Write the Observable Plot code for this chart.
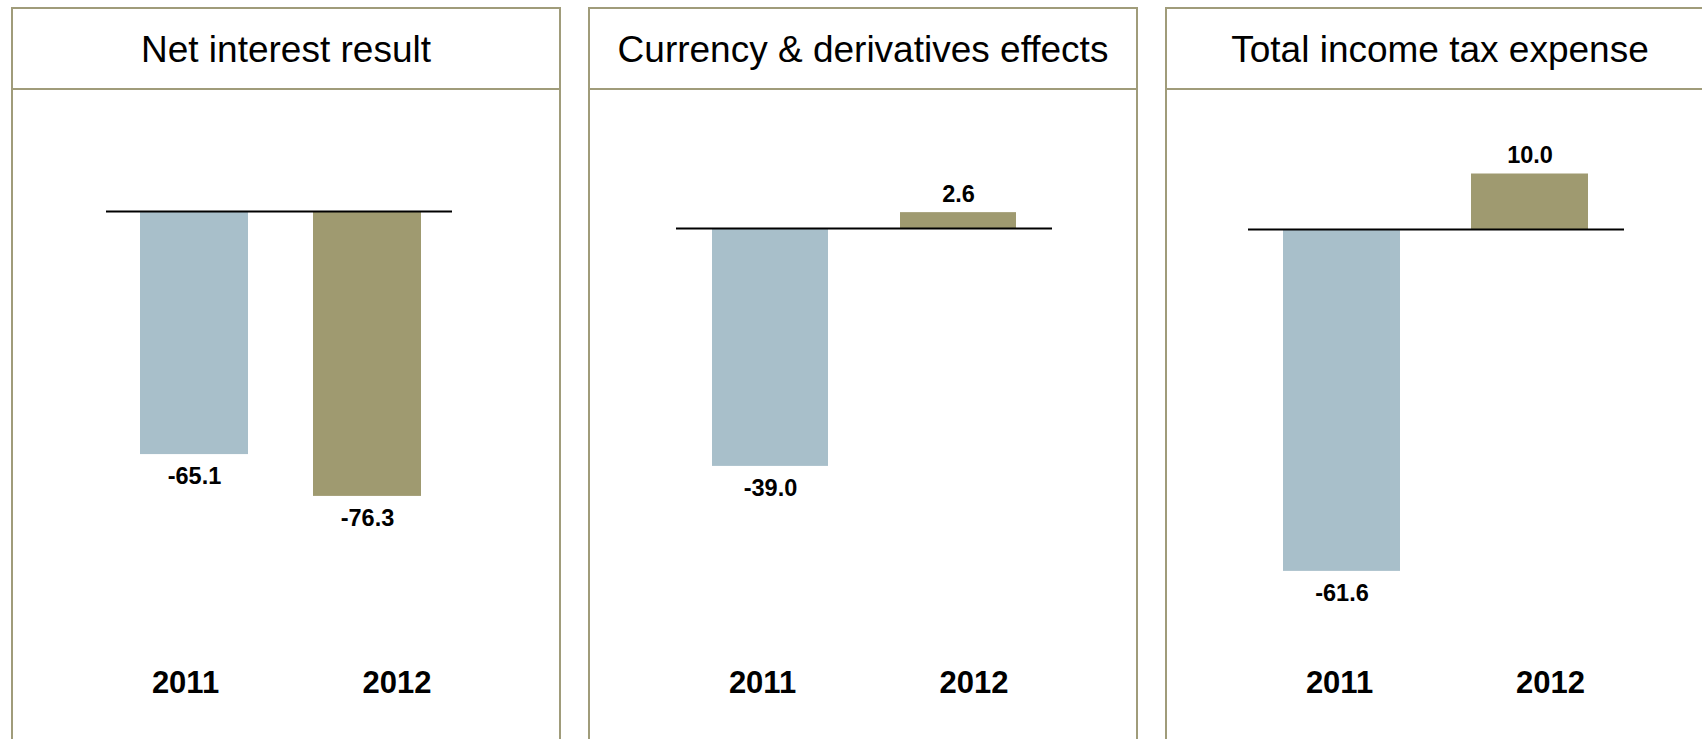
<!DOCTYPE html>
<html>
<head>
<meta charset="utf-8">
<script src="https://cdn.jsdelivr.net/npm/d3@7"></script>
<script src="https://cdn.jsdelivr.net/npm/@observablehq/plot@0.6"></script>
<style>
  html, body { margin: 0; padding: 0; background: #fff; width: 1702px; height: 739px; overflow: hidden; }
  body { position: relative; font-family: "Liberation Sans", Arial, sans-serif; }
  .panel { position: absolute; top: 7px; width: 550px; height: 740px; box-sizing: border-box;
           border: 2px solid #a09c7a; border-bottom: none; }
  .head { height: 76px; border-bottom: 2px solid #a09c7a; display: flex; align-items: center;
          justify-content: center; font-size: 37px; color: #000; padding-top: 3px; box-sizing: content-box; }
  .panel svg { display: block; }
</style>
</head>
<body>
<script>
// ---- data ----
const titles = ["Net interest result", "Currency & derivatives effects", "Total income tax expense"];
const years = ["2011", "2012"];
const values2011 = [-65.1, -39.0, -61.6];
const values2012 = [-76.3, 2.6, 10.0];
const colors = ["#a8bfca", "#9f9a70"];

// ---- layout (per panel) ----
const layout = [
  {zero: 121, k: 3.734, centers: [181, 354], bw: 108, frame: [93, 439]},
  {zero: 138, k: 6.10, centers: [180, 368], bw: 116, frame: [86, 462]},
  {zero: 139, k: 5.55, centers: [174.5, 363], bw: 117, frame: [81, 457]}
];
const yearLabelX = [172, 383.5];
const W = 546, H = 650;

titles.forEach((title, i) => {
  const L = layout[i];
  const step = L.centers[1] - L.centers[0];
  const pi = 1 - L.bw / step;
  const xRange = [L.centers[0] - step / 2, L.centers[1] + step / 2];
  const xb = d3.scaleBand().domain(years).range(xRange).paddingInner(pi).paddingOuter(pi / 2);
  const data = years.map((y, j) => ({year: y, value: [values2011, values2012][j][i]}));
  const fmt = v => v.toFixed(1);

  const panel = document.createElement("div");
  panel.className = "panel";
  panel.style.left = (11 + 577 * i) + "px";
  const head = document.createElement("div");
  head.className = "head";
  head.textContent = title;
  panel.appendChild(head);

  const chart = Plot.plot({
    width: W,
    height: H,
    marginLeft: L.frame[0],
    marginRight: W - L.frame[1],
    marginTop: 0,
    marginBottom: H - 602,
    style: {fontFamily: "'Liberation Sans', Arial, sans-serif", background: "transparent", overflow: "visible"},
    x: {domain: years, range: xRange, paddingInner: pi, paddingOuter: pi / 2, axis: null},
    y: {domain: [-100, 100], range: [L.zero + 100 * L.k, L.zero - 100 * L.k], axis: null},
    color: {domain: years, range: colors},
    marks: [
      Plot.barY(data, {x: "year", y: "value", fill: "year"}),
      Plot.ruleY([0], {stroke: "#000", strokeWidth: 2}),
      Plot.text(data.filter(d => d.value >= 0), {x: "year", y: "value", text: d => fmt(d.value),
        lineAnchor: "bottom", dy: -11, fontSize: 23.5, fontWeight: "bold", fill: "#000"}),
      Plot.text(data.filter(d => d.value < 0), {x: "year", y: "value", text: d => fmt(d.value),
        lineAnchor: "top", dy: 13, fontSize: 23.5, fontWeight: "bold", fill: "#000"}),
      ...years.map((yr, j) => Plot.text([yr], {x: d => d, frameAnchor: "bottom", lineAnchor: "bottom",
        dx: yearLabelX[j] - (xb(yr) + xb.bandwidth() / 2), fontSize: 31, fontWeight: "bold", fill: "#000"}))
    ]
  });
  panel.appendChild(chart);
  document.body.appendChild(panel);
});
</script>
</body>
</html>
